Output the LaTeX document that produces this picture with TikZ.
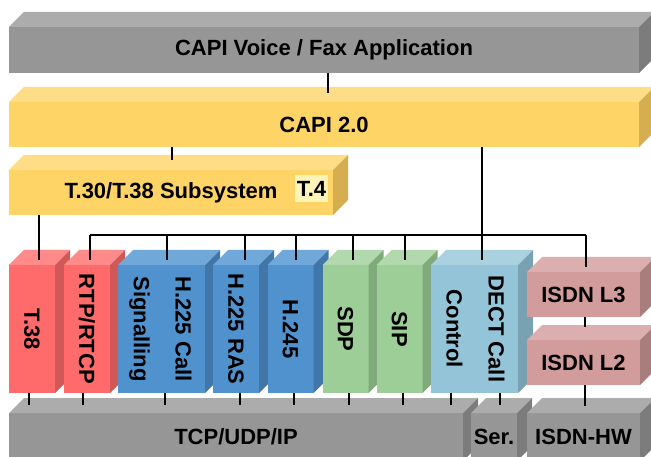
\documentclass[tikz,border=0pt]{standalone}
\usepackage{fontspec}
\setmainfont{Liberation Sans}
\usetikzlibrary{calc}

% front / top / side shades of each block colour
\definecolor{grayF}{HTML}{969696}
\definecolor{grayT}{HTML}{ACACAC}
\definecolor{grayS}{HTML}{7C7C7C}
\definecolor{yelF}{HTML}{FFD466}
\definecolor{yelT}{HTML}{FFDD87}
\definecolor{yelS}{HTML}{D6AE50}
\definecolor{redF}{HTML}{FF6B6B}
\definecolor{redT}{HTML}{FF8A8A}
\definecolor{redS}{HTML}{D25757}
\definecolor{bluF}{HTML}{4F92CE}
\definecolor{bluT}{HTML}{70A8DA}
\definecolor{bluS}{HTML}{4177A8}
\definecolor{grnF}{HTML}{9ECE98}
\definecolor{grnT}{HTML}{B2D9AE}
\definecolor{grnS}{HTML}{80AA7B}
\definecolor{cyaF}{HTML}{93C4D7}
\definecolor{cyaT}{HTML}{AAD1E0}
\definecolor{cyaS}{HTML}{78A2B2}
\definecolor{pnkF}{HTML}{D29C9C}
\definecolor{pnkT}{HTML}{DBAFAF}
\definecolor{pnkS}{HTML}{AA7D7D}
\definecolor{tfourbg}{HTML}{FFF4B8}

\newcommand\blkfont{\bfseries\fontsize{22}{26}\selectfont}
% top and side face of a block (depth 15)
\newcommand\blockfaces[2]{%
  \fill[#2T] (#1.north west) -- ++(15,-15) -- ($(#1.north east)+(15,-15)$) -- (#1.north east) -- cycle;
  \fill[#2S] (#1.north east) -- ++(15,-15) -- ($(#1.south east)+(15,-15)$) -- (#1.south east) -- cycle;
}

\tikzset{
  block/.style={fill=#1F, inner sep=0pt, outer sep=0pt, font=\blkfont},
  vblock/.style={block=#1, minimum width=46pt, minimum height=128pt},
  vlabel/.style={rotate=-90, inner sep=0pt, font=\blkfont},
  link/.style={line width=2pt},
}

\begin{document}
\begin{tikzpicture}[x=1pt,y=-1pt]
\useasboundingbox (0,0) rectangle (651,457);

% application and CAPI
\node[block=gray, minimum width=630pt, minimum height=46pt] (app) at (324,50) {CAPI Voice / Fax Application};
\blockfaces{app}{gray}
\node[block=yel, minimum width=630pt, minimum height=45pt] (capi) at (324,124.5) {CAPI 2.0};
\blockfaces{capi}{yel}
\node[block=yel, minimum width=324pt, minimum height=45pt] (t30) at (171,192.5) {T.30/T.38 Subsystem};
\blockfaces{t30}{yel}
\node[fill=tfourbg, inner sep=0pt, minimum width=33pt, minimum height=27pt, font=\blkfont] (t4) at (311.5,188.5) {T.4};

% protocol stacks
\node[vblock=red] (t38) at (32,329) {};
\blockfaces{t38}{red}
\node[vlabel] (t38 text) at (t38) {T.38};
\node[vblock=red] (rtp) at (87,329) {};
\blockfaces{rtp}{red}
\node[vlabel] (rtp text) at (rtp) {RTP/RTCP};
\node[vblock=blu, minimum width=87pt] (h225) at (161.5,329) {};
\blockfaces{h225}{blu}
\node[vlabel] (sig text) at ([xshift=-22pt]h225.center) {Signalling};
\node[vlabel] (call text) at ([xshift=22pt]h225.center) {H.225 Call};
\node[vblock=blu] (ras) at (236,329) {};
\blockfaces{ras}{blu}
\node[vlabel] (ras text) at (ras) {H.225 RAS};
\node[vblock=blu] (h245) at (290.5,329) {};
\blockfaces{h245}{blu}
\node[vlabel] (h245 text) at (h245) {H.245};
\node[vblock=grn] (sdp) at (345.5,329) {};
\blockfaces{sdp}{grn}
\node[vlabel] (sdp text) at (sdp) {SDP};
\node[vblock=grn] (sip) at (399.5,329) {};
\blockfaces{sip}{grn}
\node[vlabel] (sip text) at (sip) {SIP};
\node[vblock=cya, minimum width=87pt] (dect) at (474.5,329) {};
\blockfaces{dect}{cya}
\node[vlabel] (ctl text) at ([xshift=-20pt]dect.center) {Control};
\node[vlabel] (dect text) at ([xshift=22pt]dect.center) {DECT Call};
\node[block=pnk, minimum width=113pt, minimum height=45pt] (l3) at (583.5,294.5) {ISDN L3};
\blockfaces{l3}{pnk}
\node[block=pnk, minimum width=113pt, minimum height=45pt] (l2) at (583.5,362.5) {ISDN L2};
\blockfaces{l2}{pnk}

% transport
\node[block=gray, minimum width=454pt, minimum height=48pt] (tcp) at (236,437) {TCP/UDP/IP};
\blockfaces{tcp}{gray}
\node[block=gray, minimum width=46pt, minimum height=48pt] (ser) at (494,437) {Ser.};
\blockfaces{ser}{gray}
\node[block=gray, minimum width=113pt, minimum height=48pt] (hw) at (583.5,437) {ISDN-HW};
\blockfaces{hw}{gray}

% links
\coordinate (bus) at (0,235);
\coordinate (t30 in) at ([xshift=1pt,yshift=10pt]t30.north);
\coordinate (t38 in) at ([xshift=7pt,yshift=5pt]t38.north);
\coordinate (rtp in) at ([xshift=3pt,yshift=5pt]rtp.north);
\coordinate (h225 in) at ([xshift=5.5pt,yshift=5pt]h225.north);
\coordinate (ras in) at ([xshift=9pt,yshift=5pt]ras.north);
\coordinate (h245 in) at ([xshift=5.5pt,yshift=5pt]h245.north);
\coordinate (sdp in) at ([xshift=7.5pt,yshift=5pt]sdp.north);
\coordinate (sip in) at ([xshift=5.5pt,yshift=5pt]sip.north);
\coordinate (dect in) at ([xshift=7.5pt,yshift=5pt]dect.north);
\coordinate (l3 in) at ([xshift=2.5pt,yshift=5pt]l3.north);
\draw[link] ([xshift=4pt]app.south) -- ([xshift=4pt,yshift=9pt]capi.north);
\draw[link] (capi.south -| t30 in) -- (t30 in);
\draw[link] (t30.south -| t38 in) -- (t38 in);
\draw[link] (capi.south -| dect in) -- (dect in);
\draw[link] (bus -| rtp in) -- (bus -| l3 in);
\foreach \n in {rtp,h225,ras,h245,sdp,sip,l3}
  \draw[link] (bus -| \n\space in) -- (\n\space in);
\draw[link] ([xshift=1.5pt]l3.south) -- ([xshift=1.5pt,yshift=13pt]l2.north);
\draw[link] ([xshift=1.5pt]l2.south) -- ([xshift=1.5pt,yshift=7pt]hw.north);
\foreach \n/\dx in {t38/-3,rtp/-4,h225/3.5,ras/4,h245/3.5,sdp/3.5,sip/3.5,dect/-23.5,dect/25.5}
  \draw[link] ([xshift=\dx pt]\n.south) -- ++(0,12);
\end{tikzpicture}
\end{document}
